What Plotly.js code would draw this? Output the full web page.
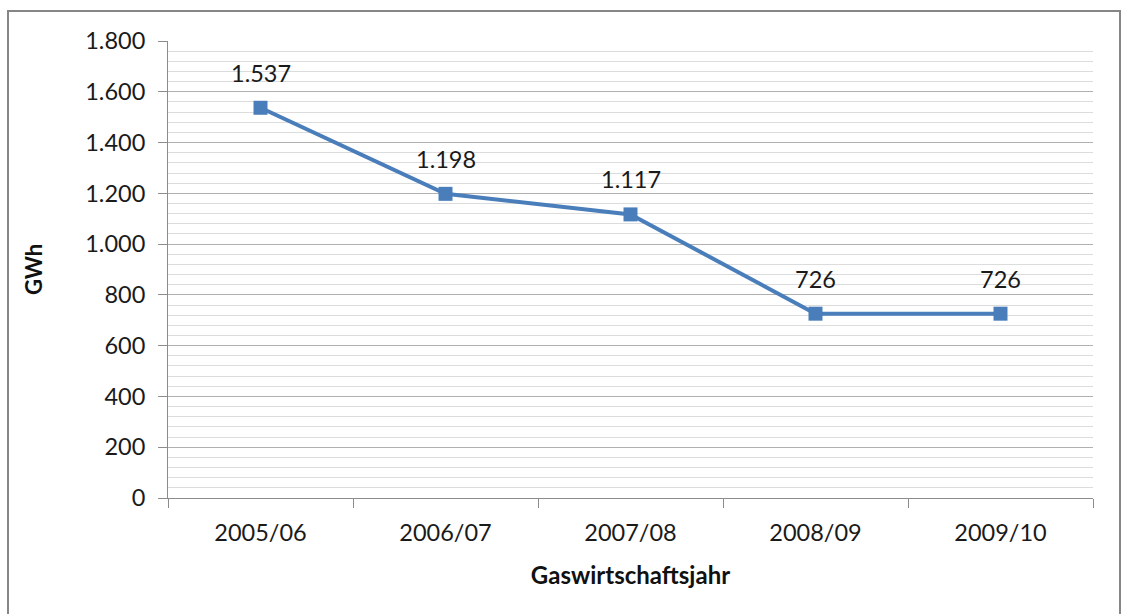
<!DOCTYPE html>
<html>
<head>
<meta charset="utf-8">
<script src="https://cdn.plot.ly/plotly-3.0.1.min.js"></script>
<style>html,body{margin:0;padding:0;background:#fff;}#chart{width:1125px;height:614px;}</style>
</head>
<body>
<div id="chart"></div>
<script>
const categories = ["2005/06", "2006/07", "2007/08", "2008/09", "2009/10"];
const values = [1537, 1198, 1117, 726, 726];
const valueLabels = ["1.537", "1.198", "1.117", "726", "726"];
const yTickVals = [0, 200, 400, 600, 800, 1000, 1200, 1400, 1600, 1800];
const yTickText = ["0", "200", "400", "600", "800", "1.000", "1.200", "1.400", "1.600", "1.800"];

const FONT = "Lato, 'Open Sans', sans-serif";
const FS = 23.5;
const trace = {
  x: categories,
  y: values,
  type: "scatter",
  mode: "lines+markers",
  line: {color: "#4a7ebb", width: 4},
  marker: {symbol: "square", size: 14, color: "#4a7ebb"},
  hoverinfo: "skip",
  cliponaxis: false
};

const annotations = categories.map((c, i) => ({
  x: c, y: values[i], xref: "x", yref: "y",
  text: valueLabels[i], showarrow: false, yshift: 35,
  font: {family: FONT, size: FS, color: "#1a1a1a"}
}));

const layout = {
  width: 1125, height: 614,
  margin: {l: 168, r: 32, t: 41, b: 116},
  paper_bgcolor: "#fff", plot_bgcolor: "#fff",
  showlegend: false,
  font: {family: FONT, size: FS, color: "#1a1a1a"},
  xaxis: {
    type: "category",
    range: [-0.5, 4.5],
    tickson: "boundaries",
    ticks: "outside", ticklen: 9, tickcolor: "#8c8c8c", tickwidth: 1,
    ticklabelstandoff: 14,
    showline: true, linecolor: "#8c8c8c", linewidth: 1,
    showgrid: false, zeroline: false, automargin: false,
    tickfont: {family: FONT, size: FS, color: "#1a1a1a"},
    title: {text: "<b>Gaswirtschaftsjahr</b>", font: {family: FONT, size: 24, color: "#111"}, standoff: 21}
  },
  yaxis: {
    range: [0, 1800],
    tickvals: yTickVals, ticktext: yTickText,
    ticks: "outside", ticklen: 9, tickcolor: "#8c8c8c", tickwidth: 1,
    ticklabelstandoff: 8,
    showline: true, linecolor: "#8c8c8c", linewidth: 1,
    showgrid: true, gridcolor: "#b0b0b0", gridwidth: 1,
    zeroline: false, automargin: false,
    minor: {dtick: 40, tick0: 0, showgrid: true, gridcolor: "#dcdcdc", gridwidth: 1, ticks: ""},
    tickfont: {family: FONT, size: FS, color: "#1a1a1a"},
    title: {text: "<b>GWh</b>", font: {family: FONT, size: 22, color: "#111"}, standoff: 36}
  },
  annotations: annotations,
  shapes: [{
    type: "rect", xref: "paper", yref: "paper",
    x0: (8 - 168) / 925, x1: (1120 - 168) / 925,
    y0: (498 - 630) / 457, y1: (498 - 11) / 457,
    line: {color: "#868686", width: 2}, fillcolor: "rgba(0,0,0,0)", layer: "below"
  }]
};

Plotly.newPlot("chart", [trace], layout, {displayModeBar: false, staticPlot: true});
</script>
</body>
</html>
